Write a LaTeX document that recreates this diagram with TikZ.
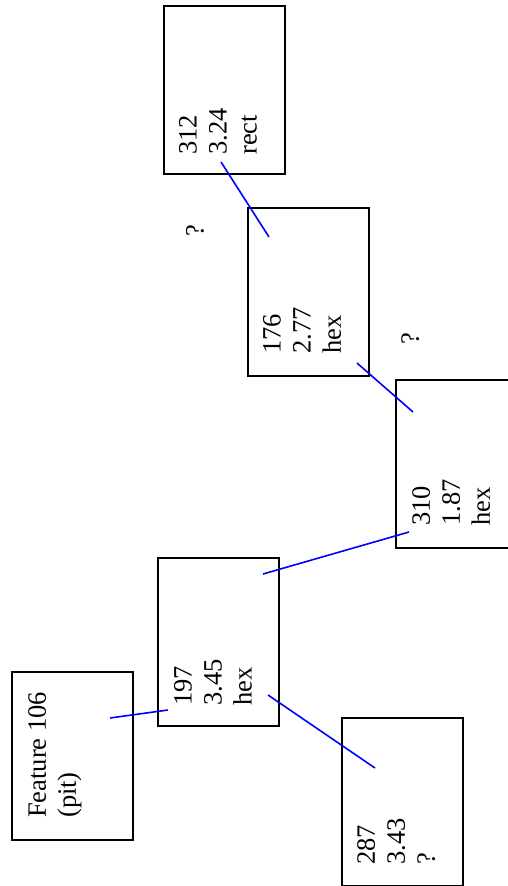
\documentclass[tikz,border=0pt]{standalone}
\usepackage{fontspec}
\setmainfont{Liberation Serif}
\begin{document}
\begin{tikzpicture}[x=1pt,y=-1pt,
  boxst/.style={draw=black,line width=1.7pt,minimum width=121pt,minimum height=168pt,inner sep=0pt,anchor=north west},
  thickbox/.style={boxst,line width=2.2pt},
  lbl/.style={rotate=90,anchor=north west,inner sep=0pt,align=left,font=\fontsize{26.5}{30}\selectfont},
  link/.style={draw=blue,line width=1.6pt}]
\useasboundingbox (0,0) rectangle (508,886);
% boxes
\node[boxst] (f106) at (11,671) {};
\node[boxst] (b197) at (157,557) {};
\node[boxst] (b287) at (341,717) {};
\node[boxst] (b310) at (395,379) {};
\node[thickbox] (b176) at (247,207) {};
\node[boxst] (b312) at (163,5) {};
% labels
\node[lbl] (t106) at (28,818) {Feature 106\\(pit)};
\node[lbl] (t197) at (174,706) {197\\3.45\\hex};
\node[lbl] (t287) at (357,865) {287\\3.43\\?};
\node[lbl] (t310) at (412,526) {310\\1.87\\hex};
\node[lbl] (t176) at (263,354) {176\\2.77\\hex};
\node[lbl] (t312) at (179,155) {312\\3.24\\rect};
\node[lbl] (q1) at (186,237) {?};
\node[lbl] (q2) at (401,345) {?};
% connector end points
\coordinate (a1) at (110,718);
\coordinate (a2) at (168,710);
\coordinate (b1) at (263,574);
\coordinate (b2) at (409,532);
\coordinate (c1) at (268,695);
\coordinate (c2) at (375,768);
\coordinate (d1) at (357,363);
\coordinate (d2) at (413,412);
\coordinate (e1) at (221,162);
\coordinate (e2) at (269,237);
% connectors
\draw[link] (a1) -- (a2);
\draw[link] (b1) -- (b2);
\draw[link] (c1) -- (c2);
\draw[link] (d1) -- (d2);
\draw[link] (e1) -- (e2);
\end{tikzpicture}
\end{document}
